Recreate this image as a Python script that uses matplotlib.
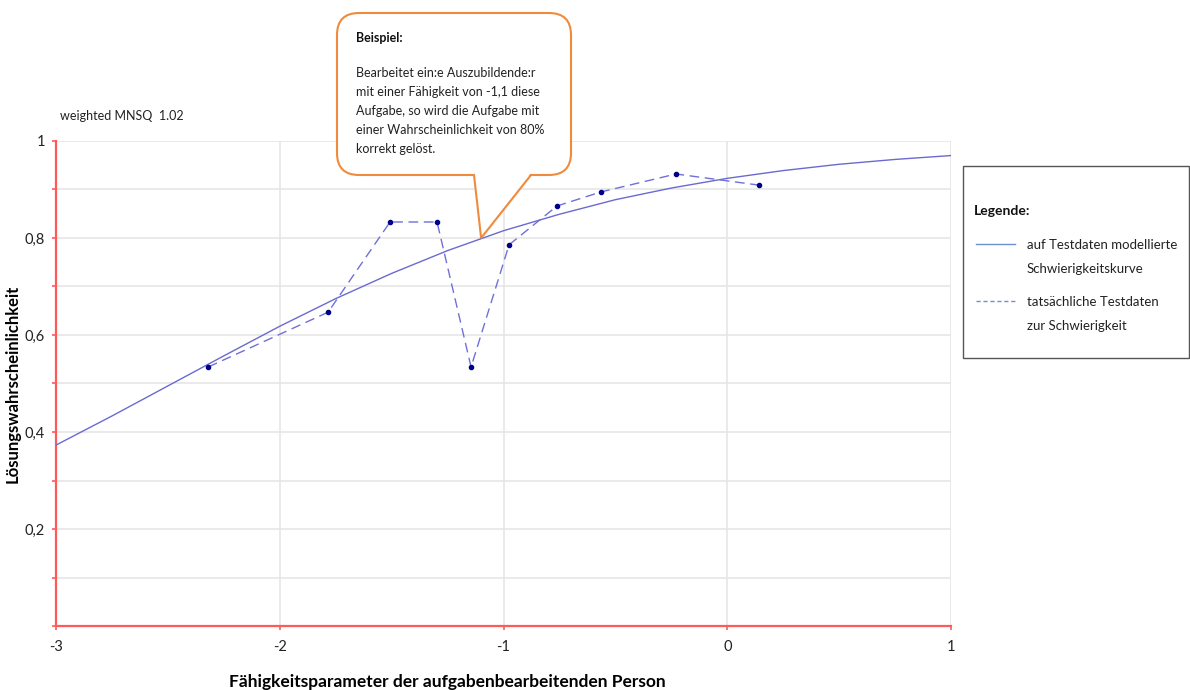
import matplotlib.pyplot as plt
from matplotlib.patches import FancyBboxPatch, Polygon, Rectangle
from matplotlib.ticker import MultipleLocator, FuncFormatter

plt.rcParams['font.family'] = ['Lato', 'DejaVu Sans']
plt.rcParams['axes.unicode_minus'] = False

# modelled curve
curve_x = [-3, -2.75, -2.5, -2.25, -2, -1.75, -1.5, -1.25, -1, -0.75,
           -0.5, -0.25, 0, 0.25, 0.5, 0.75, 1]
curve_y = [0.373, 0.433, 0.495, 0.557, 0.618, 0.675, 0.727, 0.774, 0.815,
           0.849, 0.879, 0.903, 0.923, 0.939, 0.952, 0.962, 0.970]

# observed test data
obs_x = [-2.32, -1.784, -1.507, -1.297, -1.145, -0.975, -0.761, -0.564, -0.229, 0.142]
obs_y = [0.534, 0.647, 0.833, 0.833, 0.534, 0.786, 0.866, 0.895, 0.932, 0.909]

example_x, example_y = -1.1, 0.80

label_curve = 'auf Testdaten modellierte\nSchwierigkeitskurve'
label_obs = 'tatsächliche Testdaten\nzur Schwierigkeit'
callout_text = ('Bearbeitet ein:e Auszubildende:r\n'
                'mit einer Fähigkeit von -1,1 diese\n'
                'Aufgabe, so wird die Aufgabe mit\n'
                'einer Wahrscheinlichkeit von 80%\n'
                'korrekt gelöst.')

W, H = 1190, 690
fig = plt.figure(figsize=(W / 100, H / 100), dpi=100)
ax = fig.add_axes([56 / W, 1 - 626 / H, (951 - 56) / W, (626 - 141) / H])

curve_col = '#6a6ad0'
ax.plot(curve_x, curve_y, color=curve_col, lw=1.0, zorder=3)
ax.plot(obs_x, obs_y, color='#7070d8', lw=1.0, dashes=(7, 4), zorder=3)
ax.plot(obs_x, obs_y, ls='none', marker='o', ms=3, color='#00008b', zorder=4)

ax.set_xlim(-3, 1)
ax.set_ylim(0, 1)
ax.xaxis.set_major_locator(MultipleLocator(1))
ax.yaxis.set_major_locator(MultipleLocator(0.1))
ax.yaxis.set_major_formatter(FuncFormatter(
    lambda v, p: '' if round(v * 10) % 2 or v < 0.05 else
    ('1' if v > 0.95 else f'{v:.1f}'.replace('.', ','))))
ax.grid(True, color='#e6e6e6', lw=1.2)
ax.set_axisbelow(True)
for s in ['top', 'right']:
    ax.spines[s].set_visible(False)
for s in ['left', 'bottom']:
    ax.spines[s].set_color('#ff5a5a')
    ax.spines[s].set_linewidth(1.6)
ax.tick_params(colors='#ff5a5a', length=3, width=1.2, labelcolor='#222222',
               labelsize=10.5)
ax.tick_params(axis='x', pad=7)
ax.tick_params(axis='y', pad=5)

ax.set_ylabel('Lösungswahrscheinlichkeit', fontsize=12, fontweight='bold')
ax.set_xlabel('Fähigkeitsparameter der aufgabenbearbeitenden Person',
              fontsize=12.5, fontweight='bold')
ax.xaxis.set_label_coords(0.437, -0.098)
ax.yaxis.set_label_coords(-0.040, 0.5)

# overlay in pixel coordinates for callout and legend
ov = fig.add_axes([0, 0, 1, 1], facecolor='none')
ov.set_xlim(0, W)
ov.set_ylim(H, 0)
ov.axis('off')

ov.text(60, 116, 'weighted MNSQ  1.02', fontsize=9, color='#222222', va='center')

# callout
tx, ty = ax.transData.transform((example_x, example_y))
ty = H - ty
box = FancyBboxPatch((337, 13), 234, 162, boxstyle='round,pad=0,rounding_size=22',
                     fc='white', ec='#f08a3c', lw=1.5, zorder=5)
ov.add_patch(box)
ov.add_patch(Polygon([(474, 173), (531, 173), (tx, ty)], closed=True,
                     fc='white', ec='none', zorder=6))
ov.plot([474, tx, 531], [175, ty, 175], color='#f08a3c', lw=1.5, zorder=7,
        solid_joinstyle='miter')
ov.text(356, 38, 'Beispiel:', fontsize=9, fontweight='bold', color='#111111',
        va='center', zorder=8)
ov.text(356, 67, callout_text, fontsize=9, color='#222222', va='top',
        linespacing=1.7, zorder=8)

# legend
ov.add_patch(Rectangle((963, 166), 226, 192, fc='white', ec='#555555', lw=1.0))
ov.text(974, 211, 'Legende:', fontsize=10, fontweight='bold', color='#111111',
        va='center')
ov.plot([976, 1015], [244, 244], color='#6f8fd0', lw=1.0)
ov.plot([976, 1015], [301, 301], color='#6f8fd0', lw=1.0, dashes=(3, 2))
ov.text(1027, 239, label_curve, fontsize=9.5, color='#222222', va='top',
        linespacing=2.2)
ov.text(1027, 296, label_obs, fontsize=9.5, color='#222222', va='top',
        linespacing=2.2)

fig.savefig('out.png', dpi=100)
